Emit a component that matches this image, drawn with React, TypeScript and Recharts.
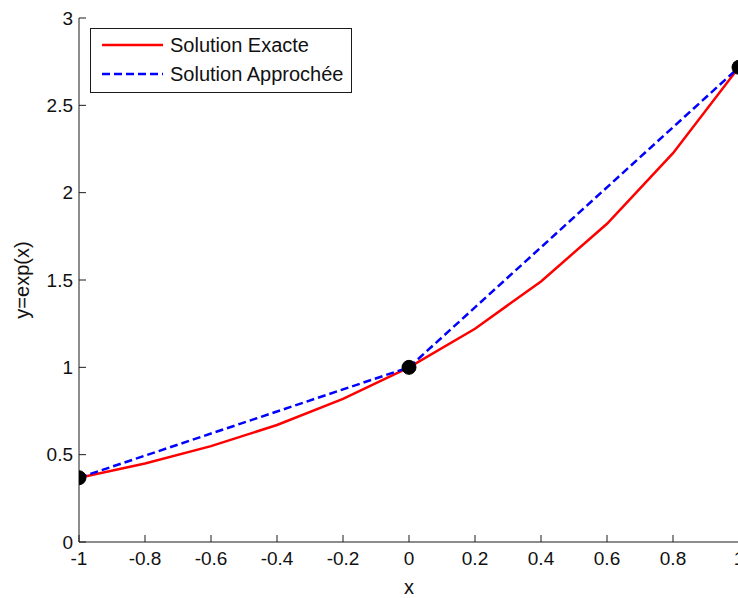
import { ComposedChart, Legend, Line, XAxis, YAxis } from 'recharts';

// exact solution, read at every 0.2 step
const xFine = [-1, -0.8, -0.6, -0.4, -0.2, 0, 0.2, 0.4, 0.6, 0.8, 1];
const yExact = [0.368, 0.449, 0.549, 0.67, 0.819, 1, 1.221, 1.492, 1.822, 2.226, 2.718];

// approximated solution through the nodes
const xNodes = [-1, 0, 1];
const yApprox = [0.368, 1, 2.718];

const xTicks = [-1, -0.8, -0.6, -0.4, -0.2, 0, 0.2, 0.4, 0.6, 0.8, 1];
const yTicks = [0, 0.5, 1, 1.5, 2, 2.5, 3];

const exactData = xFine.map((x, i) => ({ x, y: yExact[i] }));
const approxData = xNodes.map((x, i) => ({ x, y: yApprox[i] }));

const FONT = '"Liberation Sans", Arial, sans-serif';
const AXIS = '#1a1a1a';
const TICK = { fill: '#111', fontSize: 19, fontFamily: FONT };

function LegendBox() {
  const row = (top: number, color: string, dash: string | undefined, text: string) => (
    <div style={{ position: 'absolute', left: 0, top, height: 24, display: 'flex', alignItems: 'center' }}>
      <svg width={79} height={24} style={{ display: 'block' }}>
        <line x1={11} x2={72} y1={12} y2={12} stroke={color} strokeWidth={2.5} strokeDasharray={dash} />
      </svg>
      <span style={{ color: '#111', whiteSpace: 'nowrap' }}>{text}</span>
    </div>
  );
  return (
    <div
      style={{
        position: 'relative',
        width: 262,
        height: 65,
        boxSizing: 'border-box',
        border: `1px solid ${AXIS}`,
        background: '#fff',
        fontFamily: FONT,
        fontSize: 20,
      }}
    >
      {row(4, '#ff0000', undefined, 'Solution Exacte')}
      {row(33, '#0000ff', '8 4', 'Solution Approchée')}
    </div>
  );
}

export default function App() {
  return (
    <div style={{ position: 'absolute', left: 0, top: 0, width: 738, height: 598, overflow: 'hidden', background: '#fff' }}>
      <ComposedChart width={760} height={598} margin={{ top: 18, right: 21, bottom: 0, left: 0 }} style={{ fontFamily: FONT }}>
        <XAxis
          xAxisId="bottom"
          type="number"
          dataKey="x"
          domain={[-1, 1]}
          ticks={xTicks}
          allowDataOverflow
          height={56}
          tickSize={-7}
          tickMargin={17}
          tick={TICK}
          stroke={AXIS}
          label={{ value: 'x', position: 'insideBottom', offset: 4, fill: '#111', fontSize: 20, fontFamily: FONT }}
        />
        <XAxis
          xAxisId="top"
          orientation="top"
          type="number"
          dataKey="x"
          domain={[-1, 1]}
          ticks={xTicks}
          height={0}
          tickSize={-7}
          tickFormatter={() => ''}
          stroke={AXIS}
        />
        <YAxis
          yAxisId="left"
          type="number"
          domain={[0, 3]}
          ticks={yTicks}
          width={79}
          tickSize={-7}
          tickMargin={13}
          tick={TICK}
          stroke={AXIS}
          label={{
            value: 'y=exp(x)',
            angle: -90,
            position: 'insideLeft',
            offset: 22,
            fill: '#111',
            fontSize: 20,
            fontFamily: FONT,
            style: { textAnchor: 'middle' },
          }}
        />
        <YAxis
          yAxisId="right"
          orientation="right"
          type="number"
          domain={[0, 3]}
          ticks={yTicks}
          width={0}
          tickSize={-7}
          tickFormatter={() => ''}
          stroke={AXIS}
        />
        <Legend
          layout="vertical"
          align="center"
          verticalAlign="middle"
          wrapperStyle={{ position: 'absolute', left: 90, top: 28, width: 262, height: 65 }}
          content={() => <LegendBox />}
        />
        <Line
          xAxisId="bottom"
          yAxisId="left"
          data={exactData}
          dataKey="y"
          name="Solution Exacte"
          type="linear"
          stroke="#ff0000"
          strokeWidth={2.5}
          dot={false}
          activeDot={false}
          isAnimationActive={false}
        />
        <Line
          xAxisId="bottom"
          yAxisId="left"
          data={approxData}
          dataKey="y"
          name="Solution Approchée"
          type="linear"
          stroke="#0000ff"
          strokeWidth={2.5}
          strokeDasharray="8 4"
          dot={false}
          activeDot={false}
          isAnimationActive={false}
        />
        <Line
          xAxisId="bottom"
          yAxisId="left"
          data={approxData}
          dataKey="y"
          name="noeuds"
          legendType="none"
          stroke="none"
          dot={{ r: 7, fill: '#000', stroke: '#000', strokeWidth: 1 }}
          activeDot={false}
          isAnimationActive={false}
        />
      </ComposedChart>
    </div>
  );
}
